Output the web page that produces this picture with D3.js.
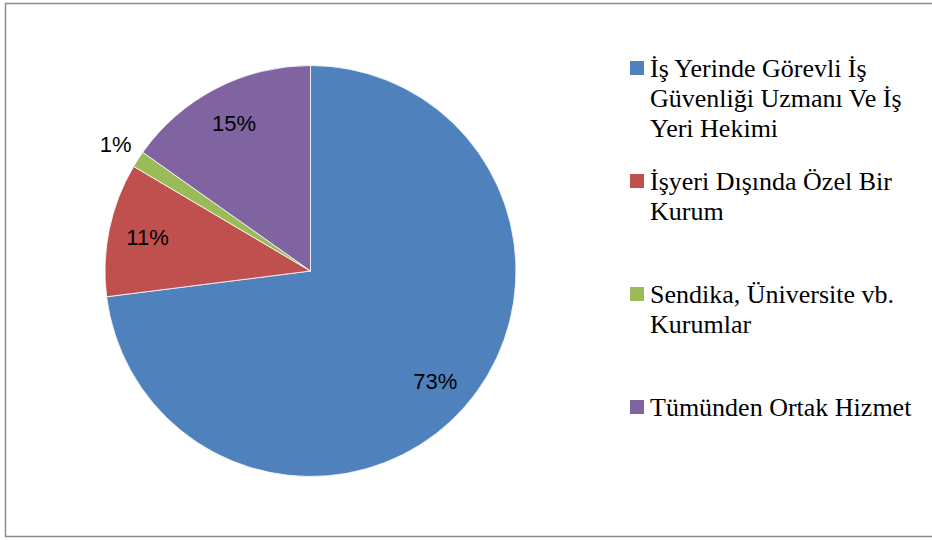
<!DOCTYPE html>
<html>
<head>
<meta charset="utf-8">
<script src="https://cdn.jsdelivr.net/npm/d3@7"></script>
<style>
  body { margin: 0; background: #fff; }
</style>
</head>
<body>
<svg id="chart" width="932" height="540"></svg>
<script>
// slice shares in percent, clockwise from 12 o'clock
const categories = [
    'İş Yerinde Görevli İş Güvenliği Uzmanı Ve İş Yeri Hekimi',
    'İşyeri Dışında Özel Bir Kurum',
    'Sendika, Üniversite vb. Kurumlar',
    'Tümünden Ortak Hizmet'
];
const legendLines = [
    ['İş Yerinde Görevli İş', 'Güvenliği Uzmanı Ve İş', 'Yeri Hekimi'],
    ['İşyeri Dışında Özel Bir', 'Kurum'],
    ['Sendika, Üniversite vb.', 'Kurumlar'],
    ['Tümünden Ortak Hizmet']
];
const values = [73.0, 10.5, 1.3, 15.2];
const labels = ['73%', '11%', '1%', '15%'];
const colors = ['#4F81BD', '#C0504D', '#9BBB59', '#8064A2'];

const svg = d3.select('#chart');

// outer frame
svg.append('rect')
    .attr('x', 5.5).attr('y', 3.5)
    .attr('width', 940).attr('height', 533)
    .attr('fill', 'none')
    .attr('stroke', '#8c8c8c')
    .attr('stroke-width', 1.5);

const cx = 310.5, cy = 271, R = 205.5;

const pie = d3.pie().sort(null).value(d => d)(values);
const arc = d3.arc().innerRadius(0).outerRadius(R);

const g = svg.append('g').attr('transform', `translate(${cx},${cy})`);

g.selectAll('path')
    .data(pie)
    .join('path')
    .attr('d', arc)
    .attr('fill', (d, i) => colors[i])
    .attr('stroke', '#fff')
    .attr('stroke-width', 0.8);

// label radius: inside for large slices, outside for the tiny one
const labelR = i => values[i] < 5 ? R * 1.13 : R * 0.81;

g.selectAll('text.lbl')
    .data(pie)
    .join('text')
    .attr('class', 'lbl')
    .attr('x', (d, i) => Math.sin((d.startAngle + d.endAngle) / 2) * labelR(i))
    .attr('y', (d, i) => -Math.cos((d.startAngle + d.endAngle) / 2) * labelR(i))
    .attr('text-anchor', 'middle')
    .attr('dy', '0.35em')
    .attr('font-family', '"Liberation Sans", Arial, sans-serif')
    .attr('font-size', '22px')
    .attr('fill', '#000')
    .text((d, i) => labels[i]);

// legend
const legend = svg.append('g').attr('transform', 'translate(630,77)');
const item = legend.selectAll('g')
    .data(categories)
    .join('g')
    .attr('transform', (d, i) => `translate(0,${i * 113})`);

item.append('rect')
    .attr('x', 0).attr('y', -16)
    .attr('width', 14).attr('height', 14)
    .attr('fill', (d, i) => colors[i]);

item.append('text')
    .attr('x', 20)
    .attr('font-family', '"Liberation Serif", "Times New Roman", serif')
    .attr('font-size', '26px')
    .attr('fill', '#000')
    .selectAll('tspan')
    .data((d, i) => legendLines[i])
    .join('tspan')
    .attr('x', 20)
    .attr('dy', (d, j) => j === 0 ? 0 : 30)
    .text(d => d);
</script>
</body>
</html>
